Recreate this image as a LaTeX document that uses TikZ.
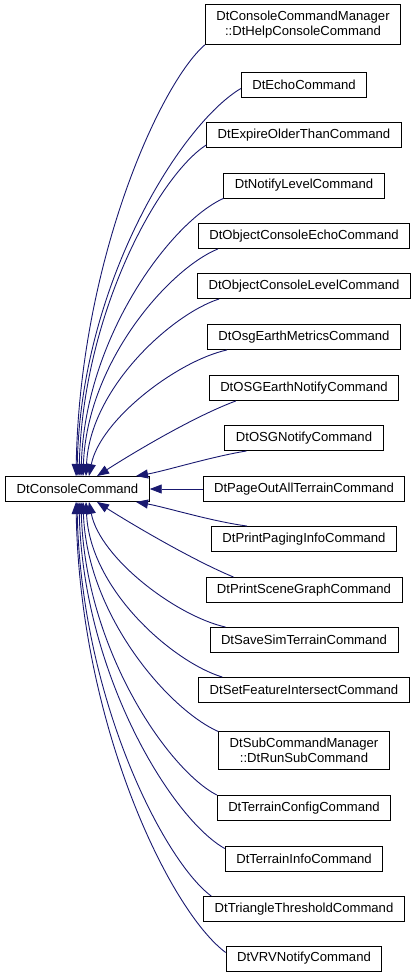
\documentclass[tikz,border=0pt]{standalone}
\usepackage{fontspec}
\setmainfont{Liberation Sans}
\usetikzlibrary{arrows.meta,calc}
\definecolor{edgeblue}{HTML}{191970}
\begin{document}
\begin{tikzpicture}[x=1pt,y=-1pt,
  cls/.style={draw=black,line width=0.9pt,fill=white,font=\fontsize{13.1}{15.5}\selectfont,inner xsep=11pt,inner ysep=6pt,minimum height=25pt,align=center},
  inh/.style={draw=edgeblue,line width=0.9pt,-{Triangle[length=12pt,width=9pt,fill=edgeblue]}}]
\useasboundingbox (0,0) rectangle (416,980);

\node[cls] (p) at (77.5,489) {DtConsoleCommand};
\node[cls] (n1) at (303,24.5) {DtConsoleCommandManager\\::DtHelpConsoleCommand};
\node[cls] (n2) at (304,84.5) {DtEchoCommand};
\node[cls] (n3) at (304,135) {DtExpireOlderThanCommand};
\node[cls] (n4) at (304,185.5) {DtNotifyLevelCommand};
\node[cls] (n5) at (304,236) {DtObjectConsoleEchoCommand};
\node[cls] (n6) at (304,286) {DtObjectConsoleLevelCommand};
\node[cls] (n7) at (304,337) {DtOsgEarthMetricsCommand};
\node[cls] (n8) at (304,388) {DtOSGEarthNotifyCommand};
\node[cls] (n9) at (304,438) {DtOSGNotifyCommand};
\node[cls] (n10) at (304,489) {DtPageOutAllTerrainCommand};
\node[cls] (n11) at (304,539) {DtPrintPagingInfoCommand};
\node[cls] (n12) at (304,590) {DtPrintSceneGraphCommand};
\node[cls] (n13) at (304,640) {DtSaveSimTerrainCommand};
\node[cls] (n14) at (304,690) {DtSetFeatureIntersectCommand};
\node[cls] (n15) at (304,750.5) {DtSubCommandManager\\::DtRunSubCommand};
\node[cls] (n16) at (304,808) {DtTerrainConfigCommand};
\node[cls] (n17) at (304,858.5) {DtTerrainInfoCommand};
\node[cls] (n18) at (304,909) {DtTriangleThresholdCommand};
\node[cls] (n19) at (304,958.5) {DtVRVNotifyCommand};

% upper children
\draw[inh] (n1.south west) .. controls (160.5,83) and (80,260) .. ($(p.north)+(-1.5,0)$);
\draw[inh] ($(n2.west)+(0,4)$) .. controls (181,124) and (81,283) .. ($(p.north)+(-0.5,0)$);
\draw[inh] ($(n3.south west)+(0,-3)$) .. controls (159.6,175) and (83,311) .. ($(p.north)+(1.5,0)$);
\draw[inh] (n4.south west) .. controls (171,222) and (85,337) .. ($(p.north)+(3.5,0)$);
\draw[inh] ($(n5.south west)+(20,0)$) .. controls (169,269) and (87,362) .. ($(p.north)+(5.5,0)$);
\draw[inh] ($(n6.south west)+(22,0)$) .. controls (172,314) and (90,388) .. ($(p.north)+(8.5,0)$);
\draw[inh] ($(n7.south west)+(20,0)$) .. controls (177,361) and (100,420) .. ($(p.north)+(11.5,0)$);
\draw[inh] ($(n8.south west)+(27,0)$) .. controls (190,418) and (125,458) .. ($(p.north)+(19.5,0)$);
\draw[inh] ($(n9.south west)+(22,0)$) .. controls (210,457) and (165,471) .. ($(p.north)+(58.5,0)$);
% same row
\draw[inh] (n10.west) -- (p.east);
% lower children
\draw[inh] ($(n11.north west)+(36,0)$) .. controls (210,521) and (165,507) .. ($(p.south)+(58.5,0)$);
\draw[inh] ($(n12.north west)+(28,0)$) .. controls (190,559) and (125,520) .. ($(p.south)+(19.5,0)$);
\draw[inh] ($(n13.north west)+(16,0)$) .. controls (176,616) and (100,558) .. ($(p.south)+(11.5,0)$);
\draw[inh] ($(n14.north west)+(24,0)$) .. controls (173,662) and (90,590) .. ($(p.south)+(8.5,0)$);
\draw[inh] (n15.north west) .. controls (169.4,710) and (87,616) .. ($(p.south)+(5.5,0)$);
\draw[inh] (n16.north west) .. controls (167,769) and (85,648) .. ($(p.south)+(3.5,0)$);
\draw[inh] ($(n17.north west)+(0,3)$) .. controls (172,819) and (83,675) .. ($(p.south)+(1.5,0)$);
\draw[inh] ($(n18.north west)+(8,0)$) .. controls (164,861) and (81,699) .. ($(p.south)+(-0.5,0)$);
\draw[inh] ($(n19.west)+(0,-6)$) .. controls (170,911) and (80,726) .. ($(p.south)+(-1.5,0)$);
\end{tikzpicture}
\end{document}
